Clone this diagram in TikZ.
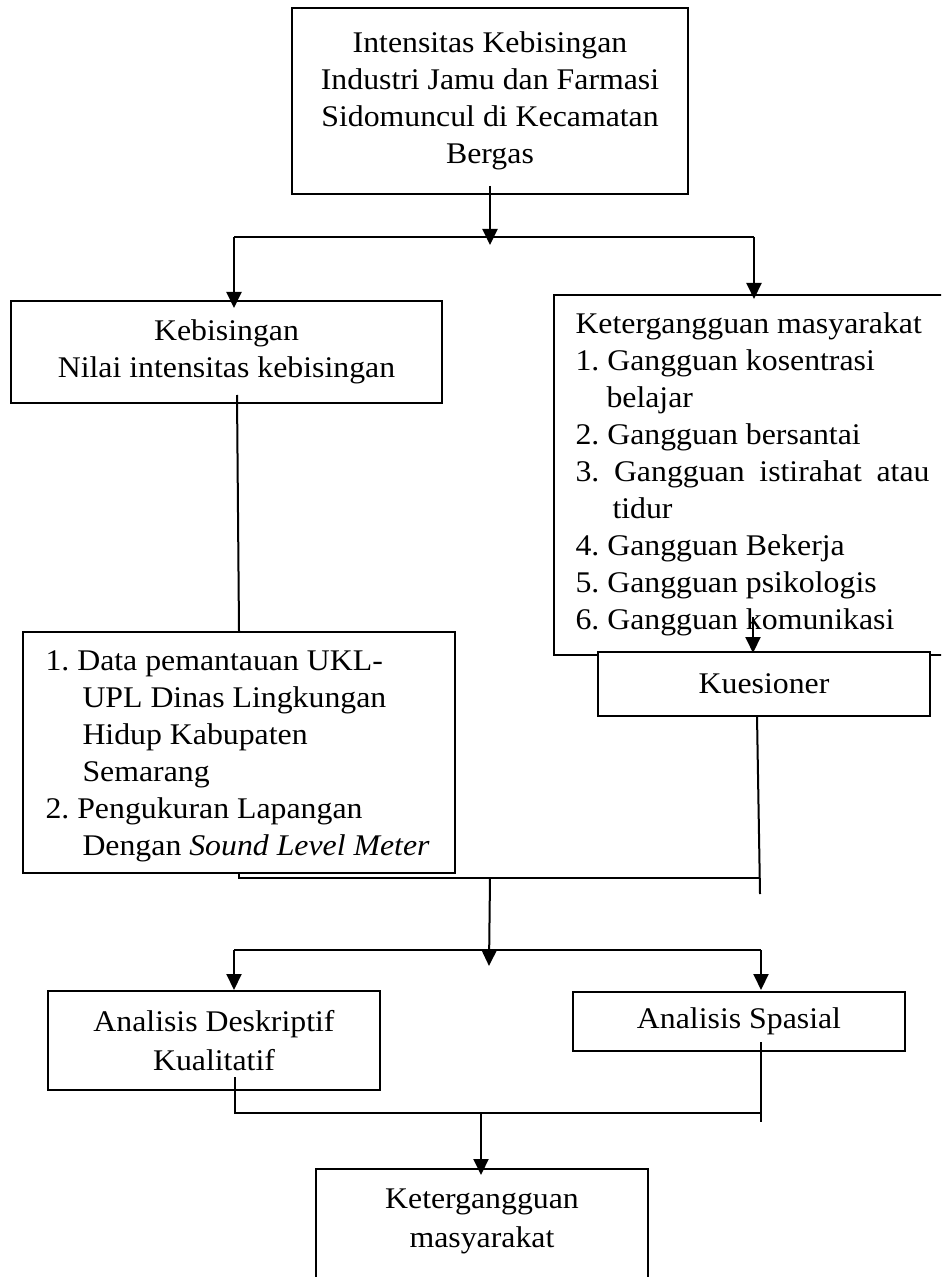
\documentclass[tikz,border=0pt]{standalone}
\usepackage{fontspec}
\setmainfont{Liberation Serif}[FakeStretch=1.06]
\usetikzlibrary{arrows.meta}
\frenchspacing
\begin{document}
\begin{tikzpicture}[x=0.4pt,y=-0.4pt,
  every node/.style={font=\fontsize{12pt}{14.8pt}\selectfont},
  box/.style={draw,line width=0.8pt,inner sep=0pt},
  txt/.style={inner sep=0pt,align=left,anchor=north west},
  ln/.style={line width=0.8pt},
  arr/.style={line width=0.8pt,-{Triangle[length=6.4pt,width=6pt]}}]
\useasboundingbox (0,0) rectangle (941,1277);
\clip (0,0) rectangle (941,1277);
% boxes
\node[box,align=center,minimum width=158.4pt,minimum height=74.4pt] (top) at (490,101)
  {Intensitas Kebisingan\\Industri Jamu dan Farmasi\\Sidomuncul di Kecamatan\\Bergas};
\node[box,align=center,minimum width=172.4pt,minimum height=40.8pt] (kb) at (226.5,352)
  {Kebisingan\\Nilai intensitas kebisingan};
\node[box,anchor=north west,minimum width=180pt,minimum height=144pt] (kg) at (553,294) {};
\node[txt] (kgt) at (575,312.5)
  {Ketergangguan masyarakat\\1. Gangguan kosentrasi\\\hspace*{12.4pt}belajar\\2. Gangguan bersantai\\\makebox[141.6pt][s]{3. Gangguan istirahat atau}\\\hspace*{14.8pt}tidur\\4. Gangguan Bekerja\\5. Gangguan psikologis\\6. Gangguan komunikasi};
\node[box,anchor=north west,minimum width=172.8pt,minimum height=96.4pt] (data) at (22,631) {};
\node[txt] (datat) at (45,650)
  {1. Data pemantauan UKL-\\\hspace*{14.8pt}UPL Dinas Lingkungan\\\hspace*{14.8pt}Hidup Kabupaten\\\hspace*{14.8pt}Semarang\\2. Pengukuran Lapangan\\\hspace*{14.8pt}Dengan \textit{Sound Level Meter}};
\node[box,fill=white,align=center,minimum width=132.8pt,minimum height=25.6pt] (kue) at (764,684) {Kuesioner};
\node[box,align=center,minimum width=132.8pt,minimum height=39.6pt] (ad) at (214,1040.5)
  {Analisis Deskriptif\\[1pt]Kualitatif};
\node[box,align=center,minimum width=132.8pt,minimum height=23.6pt] (as) at (739,1021.5) {Analisis Spasial};
\node[box,anchor=north,minimum width=132.8pt,minimum height=80pt] (kes) at (482,1168) {};
\node[align=center,inner sep=0pt,anchor=north] (kest) at (482,1188) {Ketergangguan\\[1pt]masyarakat};
% coordinates
\coordinate (t1) at (490,245);
\coordinate (hL) at (234,237);
\coordinate (hR) at (754,237);
\coordinate (kbtip) at (234,308);
\coordinate (kgtip) at (754,299);
\coordinate (kbs) at (237,395);
\coordinate (dn) at (239,631);
\coordinate (kgs) at (753,617);
\coordinate (kuet) at (753,653);
\coordinate (ds) at (239,873);
\coordinate (j2L) at (239,878);
\coordinate (j2R) at (760,878);
\coordinate (kues) at (757,716);
\coordinate (j2Re) at (760,894);
\coordinate (j2M) at (490,878);
\coordinate (t2) at (489,966);
\coordinate (h3L) at (234,950);
\coordinate (h3R) at (761,950);
\coordinate (adtip) at (234,990);
\coordinate (astip) at (761,990);
\coordinate (ads) at (235,1077);
\coordinate (j4L) at (235,1113);
\coordinate (j4R) at (761,1113);
\coordinate (ass) at (761,1042);
\coordinate (j4Re) at (761,1122);
\coordinate (j4M) at (481,1113);
\coordinate (kestip) at (481,1175);
% connectors
\draw[arr] ([yshift=3.6pt]top.south) -- (t1);
\draw[ln] (hL) -- (hR);
\draw[arr] (hL) -- (kbtip);
\draw[arr] (hR) -- (kgtip);
\draw[ln] (kbs) -- (dn);
\draw[arr] (kgs) -- (kuet);
\draw[ln] (ds) -- (j2L) -- (j2R);
\draw[ln] (kues) -- (j2Re);
\draw[arr] (j2M) -- (t2);
\draw[ln] (h3L) -- (h3R);
\draw[arr] (h3L) -- (adtip);
\draw[arr] (h3R) -- (astip);
\draw[ln] (ads) -- (j4L) -- (j4R);
\draw[ln] (ass) -- (j4Re);
\draw[arr] (j4M) -- (kestip);
\end{tikzpicture}
\end{document}
